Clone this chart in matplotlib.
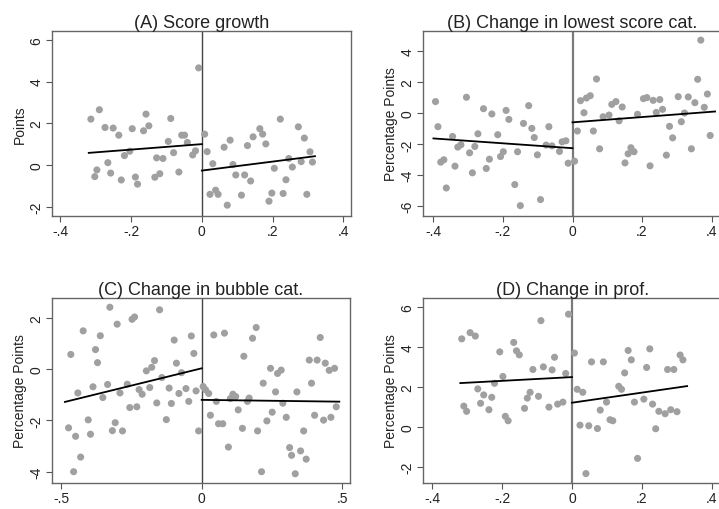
import numpy as np
import matplotlib
matplotlib.use('Agg')
import matplotlib.pyplot as plt

plt.rcParams['font.family'] = ['Liberation Sans', 'DejaVu Sans']

# (A) Score growth
a_x = [-0.314, -0.303, -0.297, -0.290, -0.274, -0.266, -0.258, -0.251, -0.235, -0.228, -0.219, -0.204,
       -0.197, -0.188, -0.182, -0.165, -0.158, -0.150, -0.133, -0.128, -0.119, -0.110, -0.095, -0.088,
       -0.080, -0.065, -0.057, -0.049, -0.041, -0.026, -0.018, -0.009,
       0.008, 0.015, 0.023, 0.031, 0.039, 0.046, 0.063, 0.072, 0.080, 0.088, 0.096, 0.112, 0.121, 0.129,
       0.138, 0.145, 0.164, 0.172, 0.181, 0.190, 0.198, 0.205, 0.222, 0.230, 0.238, 0.246, 0.256, 0.273,
       0.281, 0.290, 0.297, 0.306, 0.313]
a_y = [2.20, -0.56, -0.24, 2.65, 1.80, 0.11, -0.39, 1.77, 1.43, -0.72, 0.45, 0.66,
       1.74, -0.58, -0.92, 1.64, 2.44, 1.88, -0.59, 0.34, -0.42, 0.31, 1.13, 2.23,
       0.59, -0.34, 1.43, 1.43, 1.08, 0.48, 0.68, 4.66,
       1.48, 0.64, -1.41, 0.06, -1.21, -1.41, 0.85, -1.93, 1.19, 0.02, -0.48, -1.45, -0.48, 0.93,
       -0.77, 1.35, 1.74, 1.48, 1.01, -1.74, -1.35, -0.16, 2.20, -1.37, -0.71, 0.31, -0.10, 1.83,
       0.16, 1.29, -1.41, 0.63, 0.14]
a_fit_left = ([-0.32, 0.0], [0.58, 1.00])
a_fit_right = ([0.0, 0.32], [-0.27, 0.42])

# (B) Change in lowest score cat.
b_x = [-0.394, -0.387, -0.379, -0.370, -0.363, -0.345, -0.338, -0.330, -0.321, -0.305, -0.296, -0.288,
       -0.281, -0.272, -0.256, -0.248, -0.239, -0.232, -0.215, -0.207, -0.199, -0.191, -0.183, -0.166,
       -0.158, -0.150, -0.141, -0.126, -0.117, -0.110, -0.101, -0.092, -0.068, -0.076, -0.059, -0.0375,
       -0.030, -0.019, -0.0125,
       0.006, 0.014, 0.023, 0.033, 0.040, 0.051, 0.060, 0.069, 0.078, 0.088, 0.105, 0.113, 0.125, 0.134,
       0.143, 0.151, 0.160, 0.168, 0.177, 0.187, 0.204, 0.214, 0.223, 0.232, 0.241, 0.251, 0.259, 0.270,
       0.279, 0.288, 0.304, 0.313, 0.322, 0.333, 0.342, 0.352, 0.360, 0.369, 0.379, 0.388, 0.396]
b_y = [0.76, -0.86, -3.15, -3.00, -4.82, -1.49, -3.41, -2.18, -2.03, 1.04, -2.55, -3.84,
       -2.14, -1.32, 0.30, -3.56, -2.96, -0.04, -1.38, -2.79, -2.48, 0.19, -0.39, -4.60,
       -2.48, -5.96, -0.65, 0.50, -0.97, -1.56, -2.68, -5.57, -0.86, -2.05, -2.10, -2.46,
       -1.84, -1.77, -3.22,
       -3.09, -1.14, 0.82, 0.04, 0.99, 1.14, -1.14, 2.22, -2.29, -0.22, -0.11, 0.58, 0.76, -0.48,
       0.41, -3.20, -2.61, -2.22, -2.48, -0.06, 0.95, 1.02, -3.39, 0.84, 0.06, 0.89, 0.26, -2.70,
       -0.84, -1.58, 1.08, -0.54, 0.02, 1.06, -2.29, 0.69, 2.20, 4.73, 0.39, 1.25, -1.43]
b_fit_left = ([-0.40, 0.0], [-1.62, -2.25])
b_fit_right = ([0.0, 0.41], [-0.58, 0.12])

# (C) Change in bubble cat.
c_x = [-0.474, -0.466, -0.456, -0.449, -0.441, -0.431, -0.422, -0.404, -0.396, -0.387, -0.378, -0.371,
       -0.361, -0.352, -0.335, -0.327, -0.318, -0.308, -0.301, -0.291, -0.282, -0.265, -0.256, -0.248,
       -0.239, -0.231, -0.223, -0.212, -0.197, -0.185, -0.178, -0.168, -0.160, -0.150, -0.142, -0.126,
       -0.116, -0.108, -0.098, -0.090, -0.081, -0.072, -0.056, -0.046, -0.037, -0.028, -0.020, -0.011,
       0.005, 0.014, 0.025, 0.031, 0.043, 0.052, 0.060, 0.075, 0.081, 0.095, 0.102, 0.111, 0.121, 0.130,
       0.145, 0.150, 0.163, 0.169, 0.181, 0.194, 0.199, 0.213, 0.219, 0.232, 0.245, 0.251, 0.263, 0.270,
       0.283, 0.289, 0.301, 0.313, 0.320, 0.333, 0.339, 0.352, 0.363, 0.372, 0.383, 0.391, 0.402, 0.411,
       0.422, 0.434, 0.440, 0.454, 0.460, 0.473, 0.479]
c_y = [-2.29, 0.57, -4.00, -2.62, -0.93, -3.43, 1.49, -1.98, -2.54, -0.69, 0.76, 0.25,
       1.30, -1.11, -0.60, 2.41, -2.40, -2.09, 1.75, -0.93, -2.41, -0.59, -1.50, 1.94,
       2.03, -1.47, -0.80, -0.98, -0.07, -0.72, 0.07, 0.33, -1.32, 2.31, -0.33, -1.97,
       -0.74, -1.34, 1.13, 0.23, -0.95, -0.14, -0.76, -1.26, 1.29, 0.61, -0.85, -2.41,
       -0.68, -0.81, -0.95, -1.80, 1.33, -1.26, -2.13, -2.13, 1.40, -3.04, -1.15, -0.98, -1.07, -1.59,
       -2.31, 0.50, -1.26, -1.13, 1.20, 1.62, -2.41, -4.00, -0.55, -2.02, 0.03, -1.68, -0.89, -0.17,
       -0.04, -1.33, -1.88, -3.06, -3.36, -4.08, -0.89, -3.19, -2.41, -3.51, 0.35, -0.55, -1.80, 0.35,
       1.23, -1.99, 0.23, -0.05, -1.88, 0.03, -1.47]
c_fit_left = ([-0.487, 0.0], [-1.28, 0.03])
c_fit_right = ([0.0, 0.49], [-1.20, -1.27])

# (D) Change in prof.
d_x = [-0.316, -0.310, -0.302, -0.292, -0.277, -0.270, -0.262, -0.253, -0.238, -0.230, -0.222, -0.207,
       -0.198, -0.191, -0.183, -0.167, -0.159, -0.151, -0.136, -0.128, -0.120, -0.112, -0.096, -0.089,
       -0.082, -0.066, -0.057, -0.050, -0.041, -0.026, -0.018, -0.010,
       0.007, 0.015, 0.023, 0.031, 0.040, 0.048, 0.056, 0.073, 0.081, 0.090, 0.099, 0.109, 0.117, 0.134,
       0.142, 0.151, 0.161, 0.170, 0.179, 0.188, 0.206, 0.214, 0.223, 0.231, 0.240, 0.249, 0.267, 0.274,
       0.283, 0.292, 0.301, 0.310, 0.318]
d_y = [4.41, 1.05, 0.79, 4.72, 4.55, 1.91, 1.19, 1.61, 0.87, 1.49, 2.19, 3.76,
       2.53, 0.54, 0.32, 4.23, 3.81, 3.61, 0.94, 1.45, 1.74, 2.88, 1.54, 5.32,
       3.01, 1.00, 2.86, 3.49, 1.15, 1.25, 2.68, 5.64,
       3.70, 1.89, 0.10, 1.74, -2.32, 0.07, 3.26, -0.07, 0.85, 3.26, 1.25, 0.37, 0.32, 2.04,
       1.89, 2.71, 3.83, 3.36, 1.25, -1.56, 1.40, 2.98, 3.91, 1.15, -0.08, 0.79, 0.67, 2.88,
       0.87, 2.88, 0.77, 3.60, 3.36]
d_fit_left = ([-0.32, 0.0], [2.20, 2.50])
d_fit_right = ([0.0, 0.33], [1.22, 2.05])

panels = [
    dict(title='(A) Score growth', ylabel='Points', x=a_x, y=a_y, fits=[a_fit_left, a_fit_right],
         xlim=(-0.424, 0.422), ylim=(-2.45, 6.43),
         xticks=[-0.4, -0.2, 0, 0.2, 0.4], xlabels=['-.4', '-.2', '0', '.2', '.4'],
         yticks=[-2, 0, 2, 4, 6], pos=[52, 32, 351, 217], vcol='#444444', vlw=1.0),
    dict(title='(B) Change in lowest score cat.', ylabel='Percentage Points', x=b_x, y=b_y,
         fits=[b_fit_left, b_fit_right],
         xlim=(-0.43, 0.43), ylim=(-6.63, 5.32),
         xticks=[-0.4, -0.2, 0, 0.2, 0.4], xlabels=['-.4', '-.2', '0', '.2', '.4'],
         yticks=[-6, -4, -2, 0, 2, 4], pos=[423, 32, 722, 217], vcol='#7a7a7a', vlw=1.6),
    dict(title='(C) Change in bubble cat.', ylabel='Percentage Points', x=c_x, y=c_y,
         fits=[c_fit_left, c_fit_right],
         xlim=(-0.533, 0.528), ylim=(-4.44, 2.77),
         xticks=[-0.5, 0, 0.5], xlabels=['-.5', '0', '.5'],
         yticks=[-4, -2, 0, 2], pos=[52, 299, 350, 484], vcol='#444444', vlw=1.0),
    dict(title='(D) Change in prof.', ylabel='Percentage Points', x=d_x, y=d_y,
         fits=[d_fit_left, d_fit_right],
         xlim=(-0.427, 0.43), ylim=(-2.79, 6.45),
         xticks=[-0.4, -0.2, 0, 0.2, 0.4], xlabels=['-.4', '-.2', '0', '.2', '.4'],
         yticks=[-2, 0, 2, 4, 6], pos=[423, 299, 722, 484], vcol='#7a7a7a', vlw=1.6),
]

W, H = 719, 510
fig = plt.figure(figsize=(W / 100, H / 100), dpi=100)

for p in panels:
    l, t, r, b = p['pos']
    ax = fig.add_axes([l / W, 1 - b / H, (r - l) / W, (b - t) / H])
    ax.scatter(p['x'], p['y'], s=26, color='#a0a0a0', edgecolors='none', zorder=2)
    for fx, fy in p['fits']:
        ax.plot(fx, fy, color='black', lw=1.3, zorder=3)
    ax.axvline(0, color=p['vcol'], lw=p['vlw'], zorder=1)
    ax.set_xlim(*p['xlim'])
    ax.set_ylim(*p['ylim'])
    ax.set_xticks(p['xticks'])
    ax.set_xticklabels(p['xlabels'])
    ax.set_yticks(p['yticks'])
    ax.set_yticklabels([str(v) for v in p['yticks']], rotation=90, va='center')
    ax.tick_params(direction='out', length=4, width=0.8, color='#555555', labelsize=10,
                   labelcolor='#222222', pad=2)
    for s in ax.spines.values():
        s.set_color('#666666')
        s.set_linewidth(1.0)
    ax.set_title(p['title'], fontsize=13, color='#222222', pad=3)
    ax.set_ylabel(p['ylabel'], fontsize=10, color='#222222', labelpad=2)

fig.savefig('out.png', dpi=100)
